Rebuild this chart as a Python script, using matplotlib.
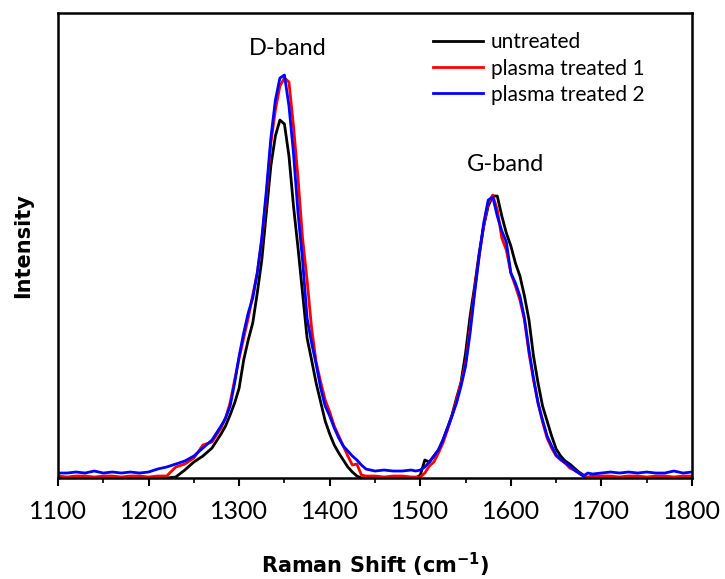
import numpy as np
from matplotlib import pyplot as plt
from matplotlib.ticker import MultipleLocator

plt.rcParams['font.family'] = ['Lato', 'DejaVu Sans']

# Raman shift grid (cm^-1)
shift = [1100, 1110, 1120, 1130, 1140, 1150, 1160, 1170, 1180, 1190,
         1200, 1210, 1220, 1230, 1240, 1250, 1260, 1270, 1280,
         1285, 1290, 1295, 1300, 1305, 1310, 1315, 1320, 1325, 1330,
         1335, 1340, 1345, 1350, 1355, 1360, 1365, 1370, 1375, 1380,
         1385, 1390, 1395, 1400, 1405, 1410, 1415, 1420, 1425, 1430,
         1435, 1440,
         1450, 1460, 1470, 1480, 1490,
         1495, 1500, 1505, 1510, 1515, 1520, 1525, 1530, 1535, 1540,
         1545, 1550, 1555, 1560, 1565, 1570, 1575, 1580, 1585, 1590,
         1595, 1600, 1605, 1610, 1615, 1620, 1625, 1630, 1635, 1640,
         1645, 1650, 1655, 1660, 1665, 1670, 1675, 1680, 1685, 1690,
         1700, 1710, 1720, 1730, 1740, 1750, 1760, 1770, 1780, 1790, 1800]

untreated = [0, 0, 0, 0, 0, 0, 0, 0, 0, 0,
             0, 0, 0, 1, 8, 16, 22, 30, 44,
             52, 63, 75, 90, 118, 138, 155, 185, 218, 265,
             312, 342, 358, 354, 322, 272, 230, 185, 140, 118,
             95, 76, 57, 44, 33, 25, 18, 11, 6, 2,
             0, 0,
             0, 0, 0, 0, 0,
             0, 3, 18, 16, 22, 28, 38, 50, 63, 80,
             96, 125, 162, 192, 225, 252, 272, 282, 282, 262,
             245, 232, 215, 202, 182, 158, 122, 95, 72, 57,
             42, 29, 22, 17, 14, 10, 6, 3, 0, 0,
             0, 0, 0, 0, 0, 0, 0, 0, 0, 0, 0]

plasma1 = [2, 1, 2, 2, 1, 2, 2, 1, 2, 2,
           1, 2, 2, 11, 14, 20, 33, 36, 50,
           60, 75, 98, 120, 140, 160, 183, 205, 238, 282,
           335, 368, 392, 400, 396, 352, 300, 240, 198, 150,
           116, 96, 78, 66, 52, 42, 32, 22, 13, 14,
           3, 2,
           2, 1, 2, 2, 1,
           1, 1, 5, 12, 16, 25, 35, 48, 62, 78,
           95, 115, 150, 188, 222, 252, 275, 283, 268, 240,
           228, 205, 192, 178, 158, 125, 98, 75, 56, 40,
           30, 22, 18, 15, 10, 8, 5, 2, 1, 2,
           2, 2, 1, 2, 2, 1, 2, 2, 1, 2, 2]

plasma2 = [5, 5, 6, 5, 7, 5, 6, 5, 6, 5,
           6, 9, 11, 14, 17, 22, 30, 38, 52,
           60, 72, 95, 122, 145, 165, 180, 205, 240, 287,
           340, 378, 400, 403, 372, 325, 265, 218, 160, 135,
           114, 90, 72, 62, 50, 40, 32, 27, 22, 18,
           13, 9,
           7, 8, 7, 7, 8,
           7, 8, 11, 16, 22, 28, 38, 50, 62, 75,
           92, 112, 145, 185, 222, 255, 278, 281, 262, 247,
           236, 205, 195, 182, 160, 128, 100, 75, 58, 42,
           32, 23, 19, 15, 12, 8, 5, 2, 5, 4,
           5, 6, 5, 6, 5, 6, 5, 5, 7, 5, 6]

fig = plt.figure(figsize=(7.25, 5.79), dpi=100)
ax = fig.add_axes([0.08, 0.1744, 0.8745, 0.8031])

ax.plot(shift, untreated, color='black', lw=2.0, label='untreated')
ax.plot(shift, plasma1, color='#ff0000', lw=2.0, label='plasma treated 1')
ax.plot(shift, plasma2, color='#0000ff', lw=2.0, label='plasma treated 2')

ax.set_xlim(1100, 1800)
ax.set_ylim(0, 465)
ax.xaxis.set_major_locator(MultipleLocator(100))
ax.xaxis.set_minor_locator(MultipleLocator(50))
ax.set_yticks([])
ax.tick_params(axis='x', which='major', direction='out', length=6, width=1.5,
               labelsize=18, pad=10)
ax.tick_params(axis='x', which='minor', direction='out', length=3.5, width=1.2)
for s in ax.spines.values():
    s.set_linewidth(1.8)

ax.set_xlabel('Raman Shift (cm$^{\\mathbf{-1}}$)', fontsize=15, fontweight='bold',
              family='DejaVu Sans', labelpad=20)
ax.set_ylabel('Intensity', fontsize=15, fontweight='bold', family='DejaVu Sans',
              labelpad=18)

ax.text(1354, 430, 'D-band', fontsize=17, ha='center', va='center')
ax.text(1594, 314, 'G-band', fontsize=17, ha='center', va='center')

ax.legend(loc='upper left', bbox_to_anchor=(0.568, 0.99), frameon=False,
          fontsize=15, handlelength=2.4, handletextpad=0.4, labelspacing=0.3,
          borderaxespad=0.3)

fig.savefig('out.png', dpi=100)
